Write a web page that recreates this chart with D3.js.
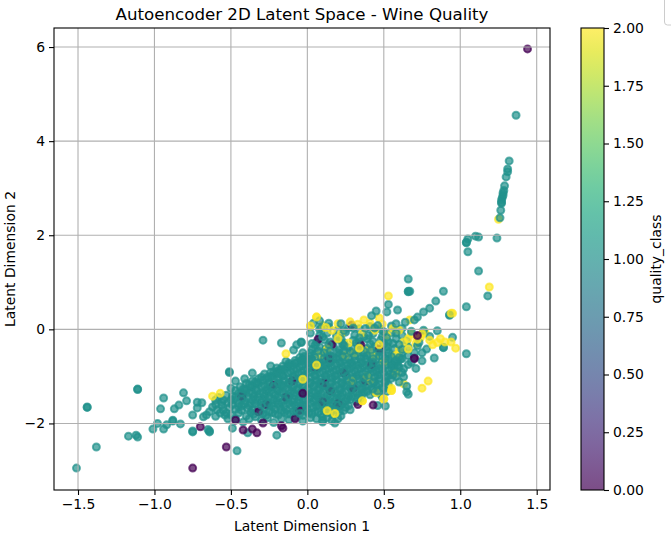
<!DOCTYPE html>
<html><head><meta charset="utf-8">
<script src="https://cdnjs.cloudflare.com/ajax/libs/d3/7.8.5/d3.min.js"></script>
<style>html,body{margin:0;padding:0;background:#fff}svg{display:block}text{font-family:"DejaVu Sans";fill:#000}</style>
</head><body><svg id="c" width="671" height="536"></svg>
<script>
const xTicks=[-1.5,-1,-0.5,0,0.5,1,1.5];
const yTicks=[-2,0,2,4,6];
const cbTicks=[0,0.25,0.5,0.75,1,1.25,1.5,1.75,2];
const titleText="Autoencoder 2D Latent Space - Wine Quality";
const xLabel="Latent Dimension 1", yLabel="Latent Dimension 2", cbLabel="quality_class";

const purpleUnder=[[-0.43,-1.42],[-0.27,-1.6],[-0.22,-1.19],[-0.03,-1.37],[0.11,-1.14],[0.1,-1.54],[0.05,-0.78],[0.16,-0.33],[0.07,-0.21],[0.35,-0.33],[0.47,-0.42],[0.7,-0.61],[0.72,-0.14],[0.29,0.09],[0.05,-0.8],[0.2,-1.58],[0.3,-1.25],[-0.05,-1.72],[-0.14,-1.45],[0.24,-0.92],[0.42,-0.75],[0.14,-0.62],[-0.32,-1.75],[-0.08,-1.9],[0.33,-1.6],[0.15,-1.3],[-0.1,-1.1],[0.38,-1.1]];
const yellowUnder=[[0.06,0.26],[0.02,0.07],[0.95,0.34],[0.55,-1.25],[0.55,-1.3],[0.36,-1.52],[0.5,-1.48],[0.18,-1.79],[0.13,-1.73],[0.29,-1.1],[0.41,-1.08],[0.39,-1],[0.63,-1.16],[0.58,-0.93],[0.47,0.24],[0.49,0.11],[0.41,0.13],[0.33,0.11],[0.28,0.16],[0.22,-0.1],[0.27,-0.29],[0.13,-0.42],[0.4,-0.44],[0.44,-0.57],[0.67,0.2],[0.74,-0.18],[0.63,-0.27],[0.6,-0.44],[0.77,-0.06],[1.25,2.34],[0.16,-0.02],[0.36,-0.08],[0.52,-0.12],[0.56,0.02],[0.68,-0.1],[0.71,-0.3],[0.31,-0.5],[0.5,-0.7],[0.1,0.08],[0.2,0.12],[0.37,0.2],[0.44,-0.02],[0.6,-0.02],[0.66,-0.2],[0.58,-0.55],[0.45,-1.35],[0.25,-0.55],[0.08,-0.55]];
const tealCore=[
[-0.42,-1.97],[-0.3,-1.93],[-0.22,-1.98],[-0.12,-1.92],[-0.03,-1.95],[0.06,-1.9],[0.16,-1.94],[-0.38,-1.9],[-0.26,-1.88],[-0.08,-1.87],[0.1,-1.86],[0.22,-1.84],
[-0.5,-1.82],[-0.45,-1.78],[-0.4,-1.84],[-0.35,-1.8],[-0.31,-1.76],[-0.27,-1.83],[-0.23,-1.77],[-0.19,-1.82],[-0.15,-1.76],[-0.11,-1.8],[-0.07,-1.75],[-0.03,-1.83],[0.01,-1.78],[0.05,-1.74],[0.09,-1.8],[0.13,-1.76],[0.17,-1.82],[0.21,-1.75],
[-0.55,-1.72],[-0.51,-1.66],[-0.47,-1.7],[-0.43,-1.63],[-0.39,-1.68],[-0.36,-1.72],[-0.32,-1.64],[-0.28,-1.69],[-0.25,-1.62],[-0.21,-1.7],[-0.18,-1.65],[-0.14,-1.71],[-0.1,-1.63],[-0.07,-1.68],[-0.03,-1.62],[0,-1.7],[0.04,-1.65],[0.07,-1.61],[0.11,-1.68],[0.15,-1.62],[0.18,-1.67],[0.22,-1.61],[0.25,-1.66],
[-0.52,-1.56],[-0.48,-1.5],[-0.45,-1.57],[-0.41,-1.52],[-0.37,-1.58],[-0.34,-1.49],[-0.3,-1.55],[-0.27,-1.5],[-0.23,-1.57],[-0.2,-1.51],[-0.17,-1.56],[-0.13,-1.49],[-0.1,-1.54],[-0.06,-1.5],[-0.03,-1.56],[0.01,-1.48],[0.04,-1.53],[0.08,-1.49],[0.11,-1.56],[0.14,-1.5],[0.18,-1.54],[0.21,-1.48],[0.25,-1.53],[0.28,-1.49],[0.32,-1.54],[0.35,-1.47],[0.49,-1.44],
[-0.49,-1.42],[-0.45,-1.36],[-0.42,-1.41],[-0.38,-1.35],[-0.35,-1.43],[-0.31,-1.37],[-0.28,-1.42],[-0.25,-1.34],[-0.21,-1.4],[-0.18,-1.35],[-0.14,-1.42],[-0.11,-1.36],[-0.08,-1.41],[-0.04,-1.34],[-0.01,-1.4],[0.03,-1.35],[0.06,-1.42],[0.09,-1.36],[0.13,-1.41],[0.16,-1.34],[0.2,-1.4],[0.23,-1.35],[0.27,-1.42],[0.3,-1.35],[0.34,-1.4],[0.37,-1.33],[0.41,-1.39],[0.44,-1.34],[0.48,-1.38],[0.52,-1.32],
[-0.41,-1.28],[-0.37,-1.22],[-0.34,-1.27],[-0.3,-1.21],[-0.27,-1.29],[-0.24,-1.23],[-0.2,-1.28],[-0.17,-1.2],[-0.14,-1.26],[-0.1,-1.21],[-0.07,-1.28],[-0.03,-1.22],[0,-1.27],[0.04,-1.2],[0.07,-1.26],[0.1,-1.21],[0.14,-1.28],[0.17,-1.22],[0.21,-1.27],[0.24,-1.2],[0.28,-1.25],[0.31,-1.2],[0.35,-1.27],[0.38,-1.21],[0.42,-1.26],[0.45,-1.19],[0.49,-1.24],[0.53,-1.18],
[-0.33,-1.14],[-0.29,-1.08],[-0.25,-1.13],[-0.22,-1.07],[-0.18,-1.15],[-0.15,-1.09],[-0.12,-1.14],[-0.08,-1.06],[-0.05,-1.12],[-0.01,-1.07],[0.02,-1.14],[0.06,-1.08],[0.09,-1.13],[0.12,-1.06],[0.16,-1.12],[0.19,-1.07],[0.23,-1.14],[0.26,-1.08],[0.3,-1.13],[0.33,-1.05],[0.37,-1.11],[0.4,-1.06],[0.44,-1.12],[0.47,-1.05],[0.51,-1.1],[0.55,-1.04],
[-0.24,-1],[-0.2,-0.94],[-0.16,-0.99],[-0.13,-0.93],[-0.09,-1.01],[-0.06,-0.95],[-0.02,-1],[0.01,-0.92],[0.05,-0.98],[0.08,-0.93],[0.12,-1],[0.15,-0.94],[0.18,-0.99],[0.22,-0.92],[0.25,-0.98],[0.29,-0.93],[0.32,-1],[0.36,-0.94],[0.39,-0.99],[0.43,-0.91],[0.46,-0.97],[0.5,-0.92],[0.54,-0.96],[0.58,-0.9],
[-0.18,-0.86],[-0.13,-0.8],[-0.09,-0.85],[-0.05,-0.79],[-0.02,-0.87],[0.02,-0.81],[0.05,-0.86],[0.09,-0.78],[0.12,-0.84],[0.16,-0.79],[0.19,-0.86],[0.23,-0.8],[0.26,-0.85],[0.3,-0.77],[0.33,-0.83],[0.37,-0.78],[0.4,-0.85],[0.44,-0.79],[0.47,-0.84],[0.51,-0.76],[0.55,-0.82],[0.59,-0.77],
[-0.08,-0.72],[-0.04,-0.66],[0,-0.71],[0.03,-0.65],[0.07,-0.73],[0.1,-0.67],[0.14,-0.72],[0.17,-0.64],[0.21,-0.7],[0.24,-0.65],[0.28,-0.72],[0.31,-0.66],[0.35,-0.71],[0.38,-0.63],[0.42,-0.69],[0.45,-0.64],[0.49,-0.71],[0.53,-0.65],[0.57,-0.7],[0.61,-0.63],
[0.01,-0.58],[0.05,-0.52],[0.09,-0.57],[0.13,-0.51],[0.17,-0.59],[0.21,-0.53],[0.25,-0.58],[0.29,-0.5],[0.33,-0.56],[0.37,-0.51],[0.41,-0.58],[0.45,-0.52],[0.49,-0.57],[0.53,-0.5],[0.57,-0.55],[0.62,-0.5],[0.66,-0.56],
[0.03,-0.43],[0.08,-0.37],[0.12,-0.42],[0.17,-0.36],[0.21,-0.44],[0.26,-0.38],[0.3,-0.4],[0.34,-0.35],[0.39,-0.41],[0.44,-0.37],[0.48,-0.43],[0.52,-0.36],[0.57,-0.41],[0.66,-0.38],
[0.06,-0.28],[0.11,-0.22],[0.15,-0.27],[0.2,-0.21],[0.24,-0.29],[0.3,-0.23],[0.34,-0.27],[0.39,-0.2],[0.43,-0.26],[0.48,-0.22],[0.53,-0.27],[0.58,-0.2],[0.65,-0.24],
[0.08,-0.13],[0.13,-0.08],[0.19,-0.14],[0.25,-0.06],[0.31,-0.12],[0.37,-0.16],[0.43,-0.09],[0.49,-0.15],[0.55,-0.07],[0.62,-0.13],
[0.08,0],[0.14,0.05],[0.2,-0.01],[0.27,0.04],[0.34,0.01],[0.41,0.06],[0.48,0],[0.55,0.07],[0.62,0.02]
];
const tealCore2=[
[-0.47,-1.9],[-0.34,-1.86],[-0.17,-1.9],[0.02,-1.88],[0.13,-1.88],
[-0.53,-1.78],[-0.43,-1.72],[-0.37,-1.76],[-0.29,-1.79],[-0.25,-1.74],[-0.21,-1.8],[-0.17,-1.73],[-0.13,-1.8],[-0.09,-1.74],[-0.05,-1.79],[-0.01,-1.74],[0.03,-1.8],[0.07,-1.76],[0.11,-1.72],[0.15,-1.78],[0.19,-1.72],[0.24,-1.72],
[-0.56,-1.62],[-0.49,-1.6],[-0.45,-1.64],[-0.41,-1.58],[-0.38,-1.62],[-0.34,-1.58],[-0.3,-1.62],[-0.26,-1.57],[-0.23,-1.63],[-0.19,-1.58],[-0.15,-1.63],[-0.12,-1.57],[-0.08,-1.61],[-0.05,-1.56],[-0.01,-1.62],[0.02,-1.57],[0.06,-1.63],[0.09,-1.58],[0.13,-1.63],[0.16,-1.57],[0.2,-1.62],[0.23,-1.56],[0.27,-1.62],
[-0.5,-1.5],[-0.47,-1.44],[-0.43,-1.49],[-0.39,-1.44],[-0.36,-1.5],[-0.32,-1.44],[-0.29,-1.49],[-0.25,-1.43],[-0.22,-1.49],[-0.19,-1.44],[-0.15,-1.5],[-0.12,-1.43],[-0.09,-1.48],[-0.05,-1.43],[-0.02,-1.49],[0.02,-1.42],[0.05,-1.47],[0.07,-1.43],[0.12,-1.49],[0.15,-1.43],[0.19,-1.47],[0.22,-1.42],[0.26,-1.48],[0.29,-1.43],[0.33,-1.47],
[-0.43,-1.34],[-0.4,-1.29],[-0.36,-1.34],[-0.33,-1.3],[-0.29,-1.35],[-0.26,-1.29],[-0.23,-1.35],[-0.19,-1.29],[-0.16,-1.34],[-0.12,-1.29],[-0.09,-1.35],[-0.06,-1.28],[-0.02,-1.33],[0.01,-1.29],[0.05,-1.35],[0.08,-1.28],[0.11,-1.33],[0.15,-1.28],[0.18,-1.34],[0.22,-1.28],[0.25,-1.33],[0.29,-1.28],[0.32,-1.33],[0.36,-1.26],[0.39,-1.32],[0.43,-1.27],[0.46,-1.31],[0.5,-1.26],
[-0.36,-1.2],[-0.32,-1.15],[-0.28,-1.2],[-0.25,-1.15],[-0.22,-1.21],[-0.19,-1.14],[-0.16,-1.19],[-0.12,-1.14],[-0.09,-1.2],[-0.05,-1.14],[-0.02,-1.19],[0.02,-1.13],[0.05,-1.18],[0.08,-1.14],[0.12,-1.2],[0.15,-1.14],[0.19,-1.19],[0.22,-1.13],[0.26,-1.18],[0.29,-1.14],[0.33,-1.19],[0.36,-1.13],[0.4,-1.18],[0.43,-1.12],[0.47,-1.16],[0.51,-1.12],
[-0.27,-1.05],[-0.23,-1],[-0.19,-1.05],[-0.16,-0.99],[-0.12,-1.06],[-0.09,-0.99],[-0.05,-1.04],[-0.02,-0.98],[0.02,-1.03],[0.05,-0.99],[0.09,-1.05],[0.12,-0.98],[0.16,-1.03],[0.19,-0.98],[0.23,-1.04],[0.26,-0.99],[0.3,-1.03],[0.33,-0.97],[0.37,-1.03],[0.4,-0.98],[0.44,-1.02],[0.48,-0.97],[0.52,-1.02],[0.56,-0.97],
[-0.2,-0.9],[-0.15,-0.85],[-0.11,-0.9],[-0.07,-0.85],[-0.04,-0.91],[0,-0.84],[0.03,-0.89],[0.07,-0.84],[0.1,-0.9],[0.14,-0.84],[0.17,-0.89],[0.21,-0.84],[0.24,-0.9],[0.28,-0.84],[0.31,-0.89],[0.35,-0.83],[0.38,-0.89],[0.42,-0.84],[0.45,-0.89],[0.49,-0.83],[0.53,-0.88],[0.57,-0.83],
[-0.12,-0.76],[-0.07,-0.71],[-0.03,-0.76],[0.01,-0.72],[0.05,-0.77],[0.08,-0.71],[0.12,-0.76],[0.15,-0.7],[0.19,-0.75],[0.22,-0.71],[0.26,-0.77],[0.29,-0.71],[0.33,-0.76],[0.36,-0.7],[0.4,-0.75],[0.43,-0.7],[0.47,-0.76],[0.51,-0.7],[0.55,-0.74],[0.59,-0.7],
[-0.03,-0.62],[0.01,-0.64],[0.05,-0.6],[0.11,-0.61],[0.15,-0.56],[0.19,-0.62],[0.23,-0.57],[0.27,-0.63],[0.31,-0.57],[0.35,-0.61],[0.39,-0.56],[0.43,-0.62],[0.47,-0.57],[0.51,-0.62],[0.55,-0.58],[0.6,-0.6],
[0.02,-0.5],[0.07,-0.46],[0.11,-0.5],[0.15,-0.46],[0.2,-0.49],[0.24,-0.46],[0.28,-0.47],[0.33,-0.44],[0.37,-0.46],[0.42,-0.44],[0.47,-0.48],[0.52,-0.44],[0.62,-0.43],
[0.05,-0.34],[0.14,-0.33],[0.23,-0.31],[0.32,-0.29],[0.41,-0.31],[0.5,-0.3],[0.6,-0.32],[0.1,-0.16],[0.22,-0.2],[0.4,-0.13],[0.52,-0.18],[0.09,0.03],[0.24,-0.03],[0.44,0.03],[0.58,-0.08]
];
const tealOuter=[
[-1.51,-2.95],[-1.38,-2.5],[-1.44,-1.65],[-1.44,-1.66],[-1.11,-1.27],[-1.11,-1.28],[-1.17,-2.27],[-1.12,-2.25],[-1.11,-2.29],[-1.01,-2.12],[-0.98,-2],[-0.94,-2.12],[-0.92,-2.03],[-0.88,-1.93],[-0.88,-1.95],[-0.83,-2.01],[-0.96,-1.69],[-0.94,-1.46],[-0.87,-1.69],[-0.84,-1.61],[-0.79,-1.52],[-0.81,-1.35],[-0.75,-2.16],[-0.75,-2.18],[-0.75,-1.82],[-0.72,-1.67],[-0.72,-1.55],[-0.64,-2.16],[-0.68,-1.86],[-0.66,-1.82],[-0.64,-1.75],[-0.62,-1.65],[-0.59,-1.71],[-0.57,-1.78],[-0.54,-1.82],[-0.46,-2.58],[-0.51,-0.9],[-0.51,-0.92],[-0.69,-1.56],[-0.64,-2.18],[-0.65,-2.13],[-0.6,-1.6],[-0.56,-1.55],[-0.6,-1.85],[-0.52,-1.9],[-0.55,-1.5],
[1.365,4.55],[1.32,3.58],[1.31,3.41],[1.31,3.35],[1.3,3.24],[1.29,3.05],[1.285,2.95],[1.28,2.9],[1.28,2.85],[1.275,2.8],[1.27,2.75],[1.27,2.7],[1.27,2.68],[1.265,2.53],[1.26,2.37],[1.24,1.94],[1.12,1.96],[1.1,1.98],[1.05,1.92],[1.04,1.85],[1.04,1.84],[1.05,1.65],[1.12,1.24],[1.18,0.71],[1.04,0.48],
[0.66,1.07],[0.66,0.81],[0.67,0.81],[0.66,0.8],[0.89,0.81],[0.84,0.6],[0.8,0.45],[0.76,0.37],[0.93,0.3],[0.93,0.31],[1.04,-0.52],[0.59,0.41],[0.53,0.53],[0.52,0.37],[0.45,0.39],[0.42,0.29],[0.95,-0.17],[0.89,-0.39],[0.89,-0.38],[0.85,-0.03],[0.83,-0.61],[0.75,-0.67],[0.71,-0.83],[0.7,0.2],[0.72,0.26],[0.65,-1.21],[0.65,-1.33],[0.66,-1.38],[0.63,-0.84],[0.63,-1.01],[0.58,-1],[0.51,-1.63],[0.28,-1.71],[0.1,-1.93],
[-0.04,-0.27],[-0.03,-0.5],[-0.29,-0.23],[-0.17,-0.29],[-0.04,-0.28],[-0.07,-0.33],[-0.09,-0.44],[0.03,-0.65],[-0.24,-0.78],[-0.36,-0.93],[-0.17,-0.86],[-0.47,-1.1],[-0.2,-2.25],[0.1,-1.97],[0.18,-1.99],[-0.49,-2.1],[-0.39,-2.2],
[0.04,0.13],[0.08,0.18],[0.14,0.13],[0.22,0.12],[0.3,0.03],[0.38,0.02],[0.46,0.08],[0.58,0.12],[0.64,0.15],[0.68,-0.04],[0.73,-0.28],[0.76,-0.02],[0.62,-0.62],[0.7,-0.5],[0.56,-0.3],[0.36,-1.38],[0.6,-1.12],[0.56,-0.78],[0.24,-0.35],[0.5,-0.05],[0.34,-0.18],[0.02,-0.08],[0.03,-0.3],[-0.02,-0.58],[0.58,-0.66],[0.46,-1.62],[0.2,-1.9],
[-0.32,-1.05],[-0.28,-0.95],[-0.24,-0.92],[-0.3,-1.02],[-0.2,-0.82],[-0.16,-0.78],[-0.12,-0.72],[-0.08,-0.66],[-0.05,-0.6],[-0.14,-0.68],[-0.1,-0.78],[-0.36,-1.1],[-0.4,-1.15],[-0.44,-1.22],[-0.47,-1.3],[-0.41,-1.05],[-0.03,-0.68],[-0.22,-0.9],[-0.26,-1.02],[-0.34,-1.12],[-0.38,-1.18],[-0.18,-0.95],[-0.42,-1.27],[-0.58,-1.45],[-0.53,-1.4],[-0.5,-1.25],[-0.6,-1.5],
[0.72,-0.35],[0.78,-0.42],[0.75,-0.5],[0.68,-0.7],[0.8,-0.15],[0.66,-0.75],[0.62,-0.92],[0.6,-0.8]
];
const yellowTop=[[0.53,0.71],[0.79,-1.1],[0.75,-1.25],[-0.03,-1.06],[0.06,-0.76],[-0.14,-0.52],[-0.62,-1.42],[-0.57,-1.36],[1.19,0.9],[0.94,0.34],[0.97,-0.4],[0.94,-0.27],[0.9,-0.27],[0.87,-0.2],[0.82,-0.33],[0.8,-0.23],[0.85,-0.28],[0.75,-0.1],[0.66,-0.42],[0.72,-0.21],[0.34,-0.4],[0.2,-0.2],[0.12,0.04],[0.47,-0.33],[0.06,0.26],[0.02,0.07],[0.55,-1.3],[0.36,-1.52],[0.18,-1.79],[0.13,-1.73],[0.5,-1.48]];
const purpleTop=[[-0.75,-2.95],[-0.53,-2.5],[-0.7,-2.07],[-0.47,-1.93],[-0.42,-2.14],[-0.36,-2.12],[-0.33,-2.2],[-0.29,-1.99],[-0.16,-2.1],[-0.17,-2.05],[0.43,-1.61],[1.44,5.96],[-0.03,-1.36],[0.72,-0.13],[0.7,-0.62]];

const W=671,H=536,L=54,R=550,T=28,B=490;
const svg=d3.select("#c");
const x=d3.scaleLinear().domain([-1.657,1.587]).range([L,R]);
const y=d3.scaleLinear().domain([-3.415,6.405]).range([B,T]);
const color=d3.scaleSequential(d3.interpolateViridis).domain([0,2]);
const layers=[[tealCore,1],[purpleUnder,0],[yellowUnder,2],[tealCore2,1],[tealOuter,1],[yellowTop,2],[purpleTop,0]];
const clip=svg.append("defs").append("clipPath").attr("id","pc").append("rect").attr("x",L).attr("y",T).attr("width",R-L).attr("height",B-T);
const plot=svg.append("g").attr("clip-path","url(#pc)");
layers.forEach(([pts,cls])=>{
  plot.append("g").selectAll("circle").data(pts).join("circle")
   .attr("cx",d=>x(d[0])).attr("cy",d=>y(d[1])).attr("r",3.5)
   .attr("fill",color(cls)).attr("fill-opacity",0.7)
   .attr("stroke",color(cls)).attr("stroke-opacity",0.7).attr("stroke-width",2);
});
const grid=svg.append("g").attr("stroke","#b0b0b0").attr("stroke-width",1.1);
xTicks.forEach(v=>grid.append("line").attr("x1",x(v)).attr("x2",x(v)).attr("y1",T).attr("y2",B));
yTicks.forEach(v=>grid.append("line").attr("y1",y(v)).attr("y2",y(v)).attr("x1",L).attr("x2",R));
const fs=13.9;
function style(g){g.selectAll("text").attr("font-size",fs).style("font-family",'"DejaVu Sans"').attr("fill","#000");g.selectAll("line").attr("stroke","#000").attr("stroke-width",1.1);g.select(".domain").remove();}
svg.append("g").attr("transform",`translate(0,${B})`).call(d3.axisBottom(x).tickValues(xTicks).tickFormat(d3.format(".1f")).tickSize(5).tickPadding(4)).call(style);
svg.append("g").attr("transform",`translate(${L},0)`).call(d3.axisLeft(y).tickValues(yTicks).tickFormat(d3.format("d")).tickSize(5).tickPadding(4)).call(style);
svg.append("rect").attr("x",L).attr("y",T).attr("width",R-L).attr("height",B-T).attr("fill","none").attr("stroke","#000").attr("stroke-width",1.1);
svg.append("text").attr("x",(L+R)/2).attr("y",20).attr("text-anchor","middle").attr("font-size",16.67).text(titleText);
svg.append("text").attr("x",(L+R)/2).attr("y",531).attr("text-anchor","middle").attr("font-size",fs).text(xLabel);
svg.append("text").attr("transform",`translate(15,${(T+B)/2}) rotate(-90)`).attr("text-anchor","middle").attr("font-size",fs).text(yLabel);
// colorbar
const cbL=581,cbR=604;
const cy=d3.scaleLinear().domain([0,2]).range([B,T]);
const grad=svg.select("defs").append("linearGradient").attr("id","cb").attr("x1",0).attr("x2",0).attr("y1",1).attr("y2",0);
d3.range(0,1.0001,0.05).forEach(t=>grad.append("stop").attr("offset",t).attr("stop-color",d3.interpolateViridis(t)).attr("stop-opacity",0.7));
svg.append("rect").attr("x",cbL).attr("y",T).attr("width",cbR-cbL).attr("height",B-T).attr("fill","url(#cb)").attr("stroke","#000").attr("stroke-width",1.1);
svg.append("g").attr("transform",`translate(${cbR},0)`).call(d3.axisRight(cy).tickValues(cbTicks).tickFormat(d3.format(".2f")).tickSize(5).tickPadding(4)).call(style);
svg.append("text").attr("transform",`translate(661,${(T+B)/2}) rotate(-90)`).attr("text-anchor","middle").attr("font-size",fs).text(cbLabel);
// clipped legend frame at the window edge
svg.append("rect").attr("x",664.5).attr("y",-6).attr("width",20).attr("height",31).attr("rx",3).attr("fill","#fff").attr("stroke","#ccc").attr("stroke-width",1);
</script></body></html>
